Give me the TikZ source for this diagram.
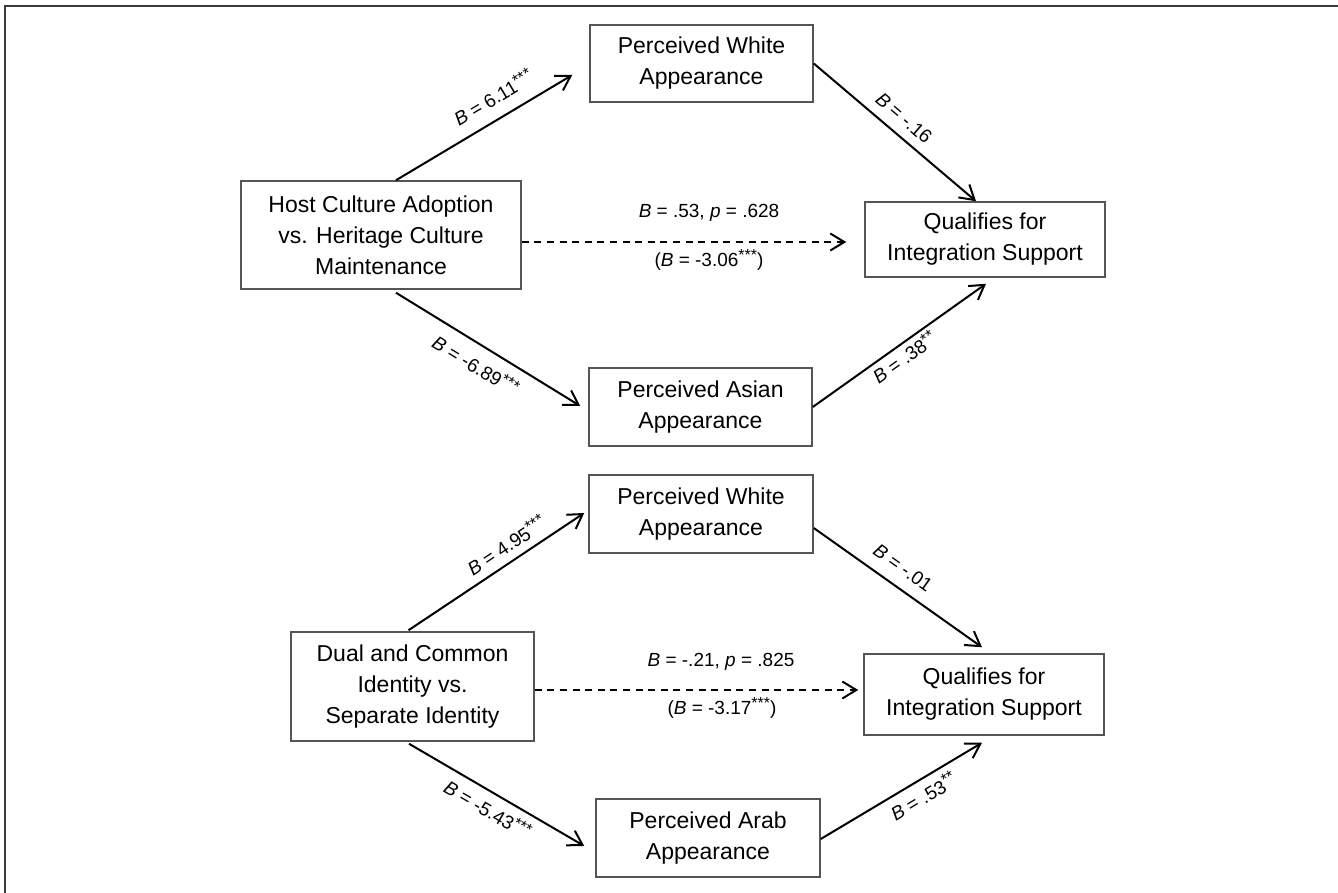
\documentclass[tikz,border=0pt]{standalone}
\usepackage{fontspec}
\setmainfont{Liberation Sans}
\usetikzlibrary{arrows.meta,calc}
\definecolor{boxgray}{HTML}{555555}
\definecolor{framegray}{HTML}{3A3A3A}
\newcommand{\sigstars}[1]{\raisebox{0.55ex}{\fontsize{8}{8}\selectfont #1}}
\begin{document}
\begin{tikzpicture}[x=0.5pt,y=-0.5pt,
  box/.style={draw=boxgray, line width=0.75pt, align=center, font=\fontsize{11.5}{15.5}\selectfont, inner sep=0pt},
  conn/.style={draw=black, line width=1pt, -{Straight Barb[length=7pt,width=8.5pt]}},
  dconn/.style={conn, dash pattern=on 3.5pt off 2.8pt},
  lbl/.style={font=\fontsize{9.5}{11}\selectfont, inner sep=0pt}]
\useasboundingbox (0,0) rectangle (1338,893);
\draw[framegray, line width=0.75pt] (5,893) -- (5,6) -- (1338,6);

% top panel
\node[box, minimum width=140pt, minimum height=54pt] (host) at (381,235) {Host Culture Adoption\\vs. Heritage Culture\\Maintenance};
\node[box, minimum width=111.5pt, minimum height=38.5pt] (white1) at (701.5,63.5) {Perceived White\\Appearance};
\node[box, minimum width=120pt, minimum height=37.5pt] (qual1) at (985,239.5) {Qualifies for\\Integration Support};
\node[box, minimum width=111.5pt, minimum height=39pt] (asian) at (700.5,407) {Perceived Asian\\Appearance};

\draw[conn] ($(host.north)+(15,0)$) -- ($(white1.west)+(-17,11.5)$);
\draw[conn] (white1.east) -- ($(qual1.north)+(-9,0)$);
\draw[conn] ($(host.south)+(15,3)$) -- ($(asian.west)+(-8,-1)$);
\draw[conn] (asian.east) -- ($(qual1.south)+(1,6)$);
\draw[dconn] ($(host.east)+(0,7)$) -- ($(qual1.west)+(-18,2.5)$);

\node[lbl, rotate=30.7] (l1) at (493,97) {\textit{B} = 6.11\sigstars{***}};
\node[lbl, rotate=-40.5] (l2) at (904,118) {\textit{B} = -.16};
\node[lbl, rotate=-31.4] (l3) at (476,365) {\textit{B} = -6.89\sigstars{***}};
\node[lbl, rotate=35.4] (l4) at (904,357) {\textit{B} = .38\sigstars{**}};
\node[lbl] (l5) at (709,213) {\textit{B} = .53, \textit{p} = .628};
\node[lbl] (l6) at (709,260) {(\textit{B} = -3.06\sigstars{***})};

% bottom panel
\node[box, minimum width=121.5pt, minimum height=54.5pt] (dual) at (412.5,686.5) {Dual and Common\\Identity vs.\\Separate Identity};
\node[box, minimum width=112pt, minimum height=39pt] (white2) at (701,514) {Perceived White\\Appearance};
\node[box, minimum width=120pt, minimum height=40.5pt] (qual2) at (984,694.5) {Qualifies for\\Integration Support};
\node[box, minimum width=112pt, minimum height=39pt] (arab) at (708,838) {Perceived Arab\\Appearance};

\draw[conn] ($(dual.north)+(-4,-1)$) -- ($(white2.west)+(-4,-1)$);
\draw[conn] ($(white2.east)+(0,14)$) -- ($(qual2.north)+(-2,-6)$);
\draw[conn] ($(dual.south)+(-3.5,2)$) -- ($(arab.west)+(-11,8)$);
\draw[conn] ($(arab.east)+(0,1)$) -- ($(qual2.south)+(-2,7)$);
\draw[dconn] ($(dual.east)+(0,3.5)$) -- ($(qual2.west)+(-5,-4.5)$);

\node[lbl, rotate=33.5] (l7) at (506,545) {\textit{B} = 4.95\sigstars{***}};
\node[lbl, rotate=-35.4] (l8) at (903,568) {\textit{B} = -.01};
\node[lbl, rotate=-30.3] (l9) at (488,809) {\textit{B} = -5.43\sigstars{***}};
\node[lbl, rotate=30.9] (l10) at (923,796) {\textit{B} = .53\sigstars{**}};
\node[lbl] (l11) at (721,662) {\textit{B} = -.21, \textit{p} = .825};
\node[lbl] (l12) at (722,708) {(\textit{B} = -3.17\sigstars{***})};
\end{tikzpicture}
\end{document}
